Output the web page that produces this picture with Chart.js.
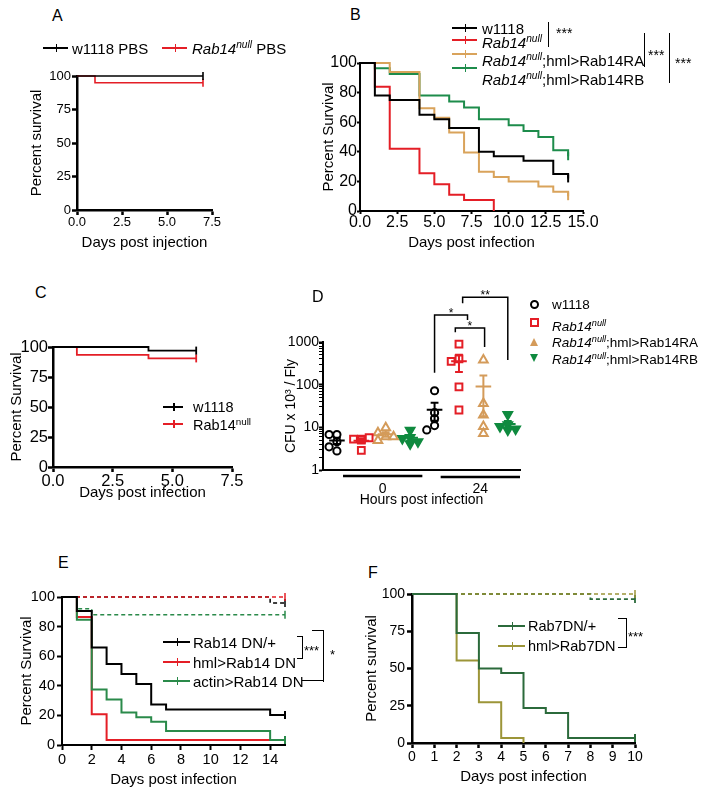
<!DOCTYPE html>
<html>
<head>
<meta charset="utf-8">
<title>Rab14 survival and CFU</title>
<script src="https://cdn.jsdelivr.net/npm/chart.js@4.4.1/dist/chart.umd.min.js"></script>
<style>
  html, body { margin: 0; padding: 0; background: #fff; }
  body { position: relative; width: 714px; height: 800px; overflow: hidden; font-family: "Liberation Sans", Arial, sans-serif; color: #000; }
  canvas { position: absolute; }
  .t { position: absolute; white-space: nowrap; line-height: 1; z-index: 2; }
  .t sup { font-size: 0.68em; line-height: 0; vertical-align: 0; position: relative; top: -0.55em; }
  .smp { position: absolute; height: 2px; z-index: 2; }
  .smp::after { content: ""; position: absolute; left: 50%; top: -3px; width: 1.5px; height: 8px; background: inherit; }
  .br { position: absolute; border: 0 solid #000; z-index: 2; }
  .mk { position: absolute; z-index: 2; box-sizing: content-box; }
</style>
</head>
<body>
<canvas id="cA"></canvas>
<canvas id="cB"></canvas>
<canvas id="cC"></canvas>
<canvas id="cD"></canvas>
<canvas id="cE"></canvas>
<canvas id="cF"></canvas>

<!-- panel letters -->
<div class="t" style="left:52px;top:8px;font-size:16px">A</div>
<div class="t" style="left:350px;top:7px;font-size:16px">B</div>
<div class="t" style="left:35px;top:285px;font-size:16px">C</div>
<div class="t" style="left:312px;top:289px;font-size:16px">D</div>
<div class="t" style="left:58px;top:555px;font-size:16px">E</div>
<div class="t" style="left:368px;top:565px;font-size:16px">F</div>

<!-- A legend -->
<div class="smp" style="left:43px;top:47px;width:25px;background:#000"></div>
<div class="t" style="left:72px;top:41px;font-size:15px">w1118 PBS</div>
<div class="smp" style="left:162px;top:47px;width:25px;background:#e41e26"></div>
<div class="t" style="left:192px;top:41px;font-size:15px"><i>Rab14<sup>null</sup></i> PBS</div>

<!-- B legend -->
<div class="smp" style="left:452px;top:27px;width:25px;background:#000"></div>
<div class="t" style="left:482px;top:21px;font-size:15px">w1118</div>
<div class="smp" style="left:452px;top:39px;width:25px;background:#e41e26"></div>
<div class="t" style="left:482px;top:35px;font-size:15px"><i>Rab14<sup>null</sup></i></div>
<div class="smp" style="left:452px;top:53px;width:25px;background:#d9a35b"></div>
<div class="t" style="left:482px;top:53px;font-size:15px"><i>Rab14<sup>null</sup></i>;hml&gt;Rab14RA</div>
<div class="smp" style="left:452px;top:67px;width:25px;background:#1d8c4b"></div>
<div class="t" style="left:482px;top:72px;font-size:15px"><i>Rab14<sup>null</sup></i>;hml&gt;Rab14RB</div>
<div class="br" style="left:548px;top:22px;height:25px;border-left-width:1.5px"></div>
<div class="t" style="left:556px;top:26px;font-size:14px">***</div>
<div class="br" style="left:644px;top:33px;height:34px;border-left-width:1.5px"></div>
<div class="t" style="left:648px;top:48px;font-size:14px">***</div>
<div class="br" style="left:669px;top:33px;height:50px;border-left-width:1.5px"></div>
<div class="t" style="left:675px;top:56px;font-size:14px">***</div>

<!-- C legend -->
<div class="smp" style="left:163px;top:406px;width:20px;background:#000"></div>
<div class="t" style="left:193px;top:400px;font-size:14.5px">w1118</div>
<div class="smp" style="left:163px;top:423px;width:20px;background:#e41e26"></div>
<div class="t" style="left:193px;top:418px;font-size:14.5px">Rab14<sup>null</sup></div>

<!-- D legend -->
<div class="mk" style="left:530px;top:300px;width:5px;height:5px;border:2px solid #000;border-radius:50%"></div>
<div class="t" style="left:552px;top:298px;font-size:13.5px">w1118</div>
<div class="mk" style="left:530px;top:318px;width:5px;height:5px;border:2px solid #e41e26"></div>
<div class="t" style="left:552px;top:320px;font-size:13.5px"><i>Rab14<sup>null</sup></i></div>
<div class="mk" style="left:530px;top:338px;width:0;height:0;border-left:4.5px solid transparent;border-right:4.5px solid transparent;border-bottom:8px solid #d49b5a"></div>
<div class="t" style="left:552px;top:336px;font-size:13.5px"><i>Rab14<sup>null</sup></i>;hml&gt;Rab14RA</div>
<div class="mk" style="left:530px;top:354px;width:0;height:0;border-left:4.5px solid transparent;border-right:4.5px solid transparent;border-top:8px solid #0f8a3f"></div>
<div class="t" style="left:552px;top:353px;font-size:13.5px"><i>Rab14<sup>null</sup></i>;hml&gt;Rab14RB</div>

<!-- E legend -->
<div class="smp" style="left:163px;top:641px;width:27px;background:#000"></div>
<div class="t" style="left:193px;top:635px;font-size:15px">Rab14 DN/+</div>
<div class="smp" style="left:163px;top:661px;width:27px;background:#e41e26"></div>
<div class="t" style="left:193px;top:655px;font-size:15px">hml&gt;Rab14 DN</div>
<div class="smp" style="left:163px;top:680px;width:27px;background:#2a8a4a"></div>
<div class="t" style="left:193px;top:674px;font-size:15px">actin&gt;Rab14 DN</div>
<div class="br" style="left:297px;top:636px;width:5px;height:21px;border-top-width:1.5px;border-right-width:1.5px;border-bottom-width:1.5px"></div>
<div class="t" style="left:304px;top:644px;font-size:13px">***</div>
<div class="br" style="left:312px;top:630px;width:11px;height:51px;border-top-width:1.5px;border-right-width:1.5px"></div>
<div class="br" style="left:302px;top:680px;width:22px;height:0;border-top-width:1.5px"></div>
<div class="t" style="left:330px;top:648px;font-size:13px">*</div>

<!-- F legend -->
<div class="smp" style="left:498px;top:625px;width:27px;background:#2b6a3b"></div>
<div class="t" style="left:528px;top:619px;font-size:14.5px">Rab7DN/+</div>
<div class="smp" style="left:498px;top:645px;width:27px;background:#9c9538"></div>
<div class="t" style="left:528px;top:639px;font-size:14.5px">hml&gt;Rab7DN</div>
<div class="br" style="left:618px;top:618px;width:8px;height:28px;border-top-width:1.5px;border-right-width:1.5px;border-bottom-width:1.5px"></div>
<div class="t" style="left:628px;top:630px;font-size:13px">***</div>

<script>
"use strict";

// ---------- A: PBS injection ----------
const aW1118Days = [0, 7];
const aW1118Surv = [100, 100];
const aNullDays = [0, 1, 7];
const aNullSurv = [100, 95, 95];

// ---------- B: infection, rescue lines ----------
const bW1118Days = [0, 1, 2, 4, 5, 6, 8, 9, 11, 13, 14];
const bW1118Surv = [100, 78, 75, 65, 62, 56, 40, 37, 34, 25, 22];
const bNullDays = [0, 1, 2, 4, 5, 6, 7, 9];
const bNullSurv = [100, 84, 42, 25.5, 18, 11, 7.5, 0];
const bRADays = [0, 2, 4, 5, 6, 7, 8, 9, 10, 12, 13, 14];
const bRASurv = [100, 94, 69.5, 63, 53, 39.5, 26.5, 23, 20, 16.5, 13, 10];
const bRBDays = [0, 1, 2, 4, 6, 7, 8, 10, 11, 12, 13, 14];
const bRBSurv = [100, 96.5, 92.5, 78, 74, 70, 62, 58, 54, 50, 41, 37];

// ---------- C ----------
const cW1118Days = [0, 4, 6];
const cW1118Surv = [100, 97, 97];
const cNullDays = [0, 1, 4, 6];
const cNullSurv = [100, 93.5, 90.5, 90.5];

// ---------- D: CFU per fly ----------
const dHours = ['0', '24'];
const dW1118_0h = [6.8, 6.8, 4.6, 3.5, 2.8];
const dNull_0h = [5.3, 5.3, 5.7, 2.9, 5.0];
const dRA_0h = [9.8, 7.5, 6.0, 4.9, 6.0];
const dRB_0h = [8.6, 5.8, 5.5, 4.1, 4.6];
const dW1118_24h = [72, 22, 16, 11, 8.7];
const dNull_24h = [895, 400, 350, 89, 25.5];
const dRA_24h = [380, 36, 19.5, 10.4, 7.2];
const dRB_24h = [20, 11.5, 10.5, 8.7, 9.2];

// ---------- E: Rab14 DN ----------
const eCtrlDays = [0, 1, 2, 3, 4, 5, 6, 7, 14, 15];
const eCtrlSurv = [100, 90.6, 65.8, 54.8, 48, 41.3, 27.4, 24, 20.2, 20.2];
const eHmlDays = [0, 1, 2, 3, 14];
const eHmlSurv = [100, 86.5, 20.7, 3.4, 3.4];
const eActinDays = [0, 1, 2, 3, 4, 5, 6, 7, 14, 15];
const eActinSurv = [100, 84.7, 37.5, 30.8, 22, 18.7, 15.7, 9.4, 3.4, 3.4];
// uninfected controls (dashed)
const eCtrlPbsDays = [0, 14, 15];
const eCtrlPbsSurv = [100, 96, 96];
const eHmlPbsDays = [0, 15];
const eHmlPbsSurv = [100, 100];
const eActinPbsDays = [0, 1, 2, 15];
const eActinPbsSurv = [100, 92, 88, 88];

// ---------- F: Rab7 DN ----------
const fCtrlDays = [0, 2, 3, 4, 5, 6, 7, 10];
const fCtrlSurv = [100, 73.8, 50, 46.9, 23.5, 20.1, 3.4, 3.4];
const fHmlDays = [0, 2, 3, 4, 5];
const fHmlSurv = [100, 55.3, 27.3, 3.4, 0];
const fCtrlPbsDays = [0, 8, 10];
const fCtrlPbsSurv = [100, 96.6, 96.6];
const fHmlPbsDays = [0, 10];
const fHmlPbsSurv = [100, 100];

const RED = '#e41e26';
Chart.defaults.font.family = '"Liberation Sans", Arial, sans-serif';
Chart.defaults.color = '#000';

// canvas so that the plot area lands on L/T/R/B
function placeCanvas(id, p) {
    const c = document.getElementById(id);
    const left = p.L - p.yw, top = p.T - p.padT;
    const w = p.R + p.padR - left, h = p.B + p.xh - top;
    c.style.left = left + 'px';
    c.style.top = top + 'px';
    c.style.width = w + 'px';
    c.style.height = h + 'px';
    c.width = w;
    c.height = h;
    return c;
}

// Kaplan-Meier step line, censor tick at the end
function km(days, surv, color, opt = {}) {
    const pts = days.map((d, i) => ({ x: d, y: surv[i] }));
    const last = pts.length - 1;
    const tick = opt.tick !== undefined ? opt.tick : surv[last] > 0;
    return {
        data: pts,
        borderColor: color,
        backgroundColor: color,
        borderWidth: opt.w || 2,
        borderDash: opt.dash ? [4, 3] : [],
        // value holds until the next day, then drops
        stepped: 'before',
        fill: false,
        clip: false,
        pointStyle: 'line',
        rotation: 90,
        pointRadius: pts.map((p, i) => (i === last && tick) ? 4 : 0),
        pointBorderColor: color,
        pointBorderWidth: opt.w || 2,
        pointHoverRadius: 0
    };
}

function kmChart(id, p, datasets) {
    const canvas = placeCanvas(id, p);
    const bw = p.bw || 2;
    return new Chart(canvas, {
        type: 'line',
        data: { datasets },
        options: {
            responsive: false,
            animation: false,
            events: [],
            layout: { autoPadding: false, padding: { top: p.padT, right: p.padR, left: 0, bottom: 0 } },
            plugins: { legend: { display: false }, tooltip: { enabled: false } },
            scales: {
                x: {
                    type: 'linear', min: 0, max: p.xMax,
                    afterFit: s => { s.height = p.xh; },
                    border: { color: '#000', width: bw },
                    grid: { drawOnChartArea: false, tickLength: p.xtl, tickWidth: bw, tickColor: '#000' },
                    ticks: {
                        stepSize: p.xStep, includeBounds: false, autoSkip: false, maxRotation: 0,
                        color: '#000', font: { size: p.fs }, padding: p.xpad,
                        callback: p.xFmt || (v => String(v))
                    },
                    title: { display: true, text: p.xTitle, color: '#000', font: { size: 15 }, padding: { top: 0, bottom: p.xtp } }
                },
                y: {
                    type: 'linear', min: 0, max: 100,
                    afterFit: s => { s.width = p.yw; },
                    border: { color: '#000', width: bw },
                    grid: { drawOnChartArea: false, tickLength: p.ytl, tickWidth: bw, tickColor: '#000' },
                    ticks: { stepSize: p.yStep, color: '#000', font: { size: p.fs }, padding: p.ypad },
                    title: { display: true, text: p.yTitle, color: '#000', font: { size: 15 }, padding: { top: p.ytp, bottom: 0 } }
                }
            }
        }
    });
}

const oneDec = v => v.toFixed(1);

// A
kmChart('cA', {
    L: 77, T: 76, R: 212, B: 210, yw: 57, xh: 46, padT: 12, padR: 14, bw: 2.5,
    xMax: 7.5, xStep: 2.5, yStep: 25, fs: 13, xtl: 5, ytl: 5, xpad: 0, ypad: 1,
    xFmt: oneDec, xTitle: 'Days post injection', xtp: 4, yTitle: 'Percent survival', ytp: 8
}, [
    km(aW1118Days, aW1118Surv, '#000', { w: 1.6 }),
    km(aNullDays, aNullSurv, RED, { w: 1.6 })
]);

// B
kmChart('cB', {
    L: 360, T: 63, R: 583, B: 211, yw: 50, xh: 45, padT: 12, padR: 16, bw: 2,
    xMax: 15, xStep: 2.5, yStep: 20, fs: 16, xtl: 3, ytl: 3, xpad: -1, ypad: 0,
    xFmt: oneDec, xTitle: 'Days post infection', xtp: 4, yTitle: 'Percent Survival', ytp: 10
}, [
    km(bW1118Days, bW1118Surv, '#000'),
    km(bNullDays, bNullSurv, RED),
    km(bRADays, bRASurv, '#d9a35b'),
    km(bRBDays, bRBSurv, '#1d8c4b')
]);

// C
kmChart('cC', {
    L: 53, T: 347, R: 232, B: 467, yw: 53, xh: 40, padT: 12, padR: 14, bw: 2.5,
    xMax: 7.5, xStep: 2.5, yStep: 25, fs: 16.5, xtl: 5, ytl: 5, xpad: 0, ypad: 0,
    xFmt: oneDec, xTitle: 'Days post infection', xtp: 5, yTitle: 'Percent Survival', ytp: 8
}, [
    km(cW1118Days, cW1118Surv, '#000', { w: 1.8 }),
    km(cNullDays, cNullSurv, RED, { w: 1.8 })
]);

// E (first dataset is drawn on top)
kmChart('cE', {
    L: 62, T: 597, R: 285, B: 745, yw: 52, xh: 45, padT: 12, padR: 12, bw: 2,
    xMax: 15, xStep: 2, yStep: 20, fs: 14.5, xtl: 5, ytl: 5, xpad: 1.5, ypad: 2,
    xTitle: 'Days post infection', xtp: 1, yTitle: 'Percent Survival', ytp: 8
}, [
    km(eCtrlDays, eCtrlSurv, '#000'),
    km(eActinDays, eActinSurv, '#2a8a4a'),
    km(eHmlDays, eHmlSurv, RED, { tick: false }),
    km(eHmlPbsDays, eHmlPbsSurv, RED, { dash: true, w: 1.5 }),
    km(eCtrlPbsDays, eCtrlPbsSurv, '#000', { dash: true, w: 1.5 }),
    km(eActinPbsDays, eActinPbsSurv, '#2a8a4a', { dash: true, w: 1.5 })
]);

// F
kmChart('cF', {
    L: 412, T: 594, R: 635, B: 743, yw: 52, xh: 45, padT: 12, padR: 12, bw: 2.5,
    xMax: 10, xStep: 1, yStep: 25, fs: 14, xtl: 5, ytl: 5, xpad: 1, ypad: 2,
    xTitle: 'Days post infection', xtp: 2, yTitle: 'Percent survival', ytp: 3
}, [
    km(fCtrlDays, fCtrlSurv, '#2b6a3b'),
    km(fHmlDays, fHmlSurv, '#9c9538'),
    km(fHmlPbsDays, fHmlPbsSurv, '#9c9538', { dash: true, w: 1.5 }),
    km(fCtrlPbsDays, fCtrlPbsSurv, '#2b6a3b', { dash: true, w: 1.8 })
]);

// ---------- D: scatter with mean +/- SEM on log axis ----------
const dSeries = [
    { h0: dW1118_0h, h24: dW1118_24h, color: '#000', style: 'circle', r: 3.6, filled: false },
    { h0: dNull_0h, h24: dNull_24h, color: RED, style: 'rect', r: 4.8, filled: false },
    { h0: dRA_0h, h24: dRA_24h, color: '#d49b5a', style: 'triangle', r: 5, filled: false },
    { h0: dRB_0h, h24: dRB_24h, color: '#0f8a3f', style: 'triangle', r: 5, filled: true, rot: 180 }
];
// group position on x: timepoint block * 4 + series index + 1
const groupPos = (t, i) => t * 4 + i + 1;

// simple beeswarm so overlapping points spread sideways
function swarm(vals, pos) {
    const placed = [];
    return vals.map(v => {
        const lv = Math.log10(v);
        for (const off of [0, -0.32, 0.32, -0.6, 0.6]) {
            if (!placed.some(p => Math.abs(p.lv - lv) < 0.12 && Math.abs(p.off - off) < 0.3)) {
                placed.push({ lv, off });
                return { x: pos + off, y: v };
            }
        }
        return { x: pos, y: v };
    });
}

function meanSem(vals) {
    const n = vals.length;
    const m = vals.reduce((a, b) => a + b, 0) / n;
    const sd = Math.sqrt(vals.reduce((a, b) => a + (b - m) * (b - m), 0) / (n - 1));
    return { m, se: sd / Math.sqrt(n) };
}

// significance brackets (x in group units, y in CFU units)
const dBrackets = [
    { x1: 5, x2: 6.35, top: 4300, left: 190, right: 3300, text: '*' },
    { x1: 5.85, x2: 7.05, top: 2130, left: 1700, right: 760, text: '*' },
    { x1: 6.15, x2: 8, top: 11200, left: 8100, right: 380, text: '**' }
];

const dDecor = {
    id: 'dDecor',
    afterDatasetsDraw(chart) {
        const { ctx, chartArea, scales: { x, y } } = chart;
        const unit = x.getPixelForValue(1) - x.getPixelForValue(0);
        ctx.save();
        ctx.lineCap = 'butt';
        // mean and SEM
        dSeries.forEach((s, i) => {
            [s.h0, s.h24].forEach((vals, t) => {
                const { m, se } = meanSem(vals);
                const px = x.getPixelForValue(groupPos(t, i));
                const pm = y.getPixelForValue(m);
                const hi = y.getPixelForValue(m + se);
                const lo = y.getPixelForValue(Math.max(m - se, 1.01));
                ctx.strokeStyle = s.color;
                ctx.lineWidth = 2;
                ctx.beginPath();
                ctx.moveTo(px - 0.32 * unit, pm); ctx.lineTo(px + 0.32 * unit, pm);
                ctx.moveTo(px, hi); ctx.lineTo(px, lo);
                ctx.moveTo(px - 0.16 * unit, hi); ctx.lineTo(px + 0.16 * unit, hi);
                ctx.moveTo(px - 0.16 * unit, lo); ctx.lineTo(px + 0.16 * unit, lo);
                ctx.stroke();
            });
        });
        // group bars under the axis
        ctx.strokeStyle = '#000';
        ctx.lineWidth = 2.5;
        dHours.forEach((h, t) => {
            const a = x.getPixelForValue(groupPos(t, 0) + 0.25);
            const b = x.getPixelForValue(groupPos(t, dSeries.length - 1) + 0.5);
            const yy = chartArea.bottom + 6 + t;
            ctx.beginPath(); ctx.moveTo(a, yy); ctx.lineTo(b, yy); ctx.stroke();
        });
        // brackets
        ctx.lineWidth = 1.5;
        ctx.fillStyle = '#000';
        ctx.font = '12px "Liberation Sans", Arial, sans-serif';
        ctx.textAlign = 'center';
        ctx.textBaseline = 'alphabetic';
        dBrackets.forEach(br => {
            const x1 = x.getPixelForValue(br.x1), x2 = x.getPixelForValue(br.x2);
            const yt = y.getPixelForValue(br.top);
            ctx.beginPath();
            ctx.moveTo(x1, y.getPixelForValue(br.left));
            ctx.lineTo(x1, yt);
            ctx.lineTo(x2, yt);
            ctx.lineTo(x2, y.getPixelForValue(br.right));
            ctx.stroke();
            ctx.fillText(br.text, (x1 + x2) / 2, yt + 2);
        });
        ctx.restore();
    }
};

(function () {
    const p = { L: 323, T: 342, R: 520, B: 470, yw: 43, xh: 40, padT: 62, padR: 10 };
    const canvas = placeCanvas('cD', p);
    const datasets = dSeries.map((s, i) => ({
        data: [...swarm(s.h0, groupPos(0, i)), ...swarm(s.h24, groupPos(1, i))],
        showLine: false,
        clip: false,
        pointStyle: s.style,
        rotation: s.rot || 0,
        pointRadius: s.r,
        pointHoverRadius: s.r,
        pointBorderColor: s.color,
        pointBackgroundColor: s.filled ? s.color : 'rgba(255,255,255,0)',
        pointBorderWidth: 2
    }));
    const hourPos = dHours.map((h, t) => groupPos(t, 0) + 1.875);
    new Chart(canvas, {
        type: 'scatter',
        data: { datasets },
        options: {
            responsive: false,
            animation: false,
            events: [],
            layout: { autoPadding: false, padding: { top: p.padT, right: p.padR, left: 0, bottom: 0 } },
            plugins: { legend: { display: false }, tooltip: { enabled: false } },
            scales: {
                x: {
                    type: 'linear', min: 0.43, max: 8.5,
                    afterFit: s => { s.height = p.xh; },
                    afterBuildTicks: s => { s.ticks = hourPos.map(v => ({ value: v })); },
                    border: { color: '#000', width: 2 },
                    grid: { display: false, drawTicks: false },
                    ticks: { autoSkip: false, maxRotation: 0, color: '#000', font: { size: 14 }, padding: 10.5,
                             callback: (v, i) => dHours[i] },
                    title: { display: true, text: 'Hours post infection', color: '#000', font: { size: 14 }, padding: { top: 0, bottom: 1.6 } }
                },
                y: {
                    type: 'logarithmic', min: 1, max: 1000,
                    afterFit: s => { s.width = p.yw; },
                    afterBuildTicks: s => {
                        const t = [];
                        for (let e = 0; e < 3; e++) {
                            for (let k = 1; k < 10; k++) t.push({ value: k * Math.pow(10, e), major: k === 1 });
                        }
                        t.push({ value: 1000, major: true });
                        s.ticks = t;
                    },
                    border: { color: '#000', width: 2 },
                    grid: { drawOnChartArea: false, tickLength: 4, tickColor: '#000',
                            tickWidth: c => (c.tick && c.tick.major) ? 2 : 1 },
                    ticks: { autoSkip: false, color: '#000', font: { size: 14 }, padding: 0,
                             callback: (v, i, ticks) => ticks[i].major ? String(v) : '' },
                    title: { display: true, text: 'CFU x 10³ / Fly', color: '#000', font: { size: 14 }, padding: { top: 2.6, bottom: 0 } }
                }
            }
        },
        plugins: [dDecor]
    });
})();
</script>
</body>
</html>
